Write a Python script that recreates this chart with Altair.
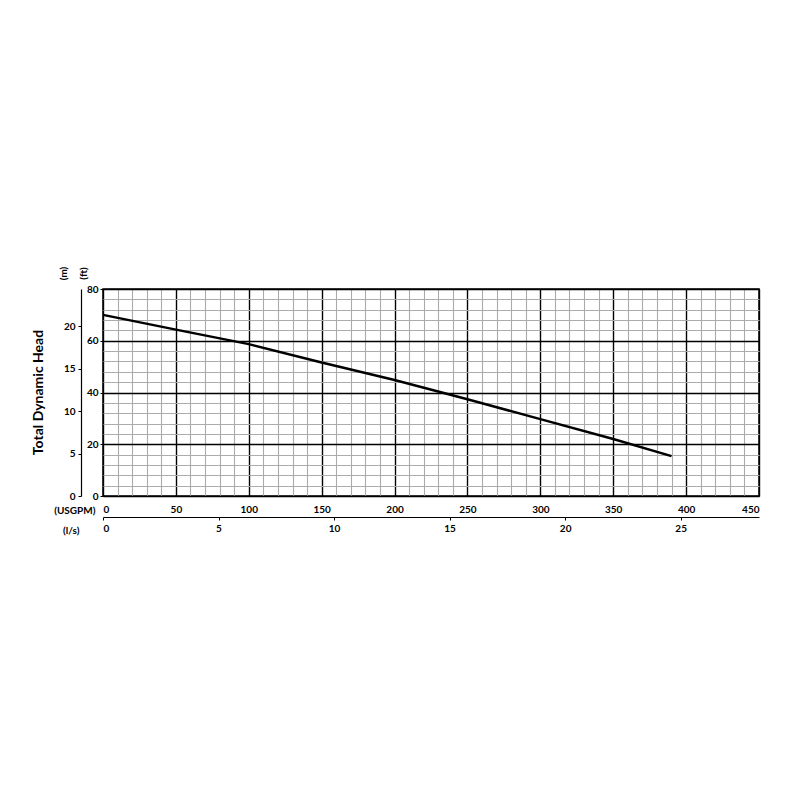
import altair as alt
import pandas as pd

# Pump curve
usgpm = [0, 50, 100, 150, 200, 250, 300, 350, 390]
head_ft = [70.0, 64.3, 58.7, 51.6, 44.8, 37.4, 29.7, 22.0, 15.4]

usgpm_ticks = list(range(0, 451, 10))
ft_ticks = list(range(0, 81, 4))
lps_ticks = [0, 5, 10, 15, 20, 25]
m_ticks = [0, 5, 10, 15, 20]

df = pd.DataFrame({"usgpm": usgpm, "ft": head_ft})

FONT = "Lato"
LBL = dict(labelFont=FONT, labelFontWeight="bold", labelFontSize=10, labelColor="black",
           titleFont=FONT, titleFontWeight="bold", titleFontSize=10, titleColor="black")

def cond(test, a, b):
    return {"condition": {"test": test, "value": a}, "value": b}

x_axis = alt.Axis(
    values=usgpm_ticks, grid=True,
    gridColor=cond("datum.value % 50 === 0", "black", "#ababab"),
    gridWidth=cond("datum.value % 50 === 0", 1.4, 1.1),
    labelExpr="datum.value % 50 === 0 ? datum.label : ''",
    ticks=False, domain=False, labelPadding=8,
    title="(USGPM)", titleX=-8, titleY=14, titleAlign="right", titleBaseline="middle",
    **LBL)

y_axis = alt.Axis(
    values=ft_ticks, grid=True,
    gridColor=cond("datum.value % 20 === 0", "black", "#ababab"),
    gridWidth=cond("datum.value % 20 === 0", 1.4, 1.1),
    labelExpr="datum.value % 20 === 0 ? datum.label : ''",
    ticks=True, tickSize=3, tickColor="black",
    tickOpacity=cond("datum.value % 20 === 0", 1, 0),
    domain=False, labelPadding=2,
    title="(ft)", titleAngle=270, titleX=-20, titleY=-16,
    titleAlign="center", titleBaseline="middle",
    **LBL)

lps_axis = alt.Axis(
    values=lps_ticks, orient="bottom", offset=21, grid=False,
    domain=True, domainColor="black", domainWidth=1.2,
    ticks=True, tickSize=3, tickColor="black", labelPadding=3,
    title="(l/s)", titleX=-24, titleY=13, titleAlign="right", titleBaseline="middle",
    **LBL)

m_axis = alt.Axis(
    values=m_ticks, orient="left", offset=22, grid=False,
    domain=True, domainColor="black", domainWidth=1.2,
    ticks=True, tickSize=3, tickColor="black", labelPadding=3,
    title="(m)", titleAngle=270, titleX=-17.5, titleY=-16,
    titleAlign="center", titleBaseline="middle",
    **LBL)

base = alt.Chart(df)

line = base.mark_line(color="black", strokeWidth=2.5).encode(
    x=alt.X("usgpm:Q", scale=alt.Scale(domain=[0, 450], nice=False), axis=x_axis),
    y=alt.Y("ft:Q", scale=alt.Scale(domain=[0, 80], nice=False), axis=y_axis),
)

aux = base.transform_calculate(
    lps="datum.usgpm * 0.0630902", m="datum.ft * 0.3048"
).mark_point(opacity=0).encode(
    x=alt.X("lps:Q", scale=alt.Scale(domain=[0, 450 * 0.0630902], nice=False), axis=lps_axis),
    y=alt.Y("m:Q", scale=alt.Scale(domain=[0, 80 * 0.3048], nice=False), axis=m_axis),
)

chart = alt.layer(line, aux).resolve_scale(
    x="independent", y="independent"
).properties(
    width=656, height=207,
    autosize=alt.AutoSizeParams(type="none"),
    padding={"left": 95, "top": 281, "right": 33, "bottom": 280},
    title=alt.TitleParams("Total Dynamic Head", orient="left", anchor="middle",
                          font=FONT, fontWeight="bold", fontSize=14, color="black", offset=8),
    background="white",
).configure_view(stroke="black", strokeWidth=1.5)

chart.save("out.html", embed_options={"renderer": "svg", "actions": False})
